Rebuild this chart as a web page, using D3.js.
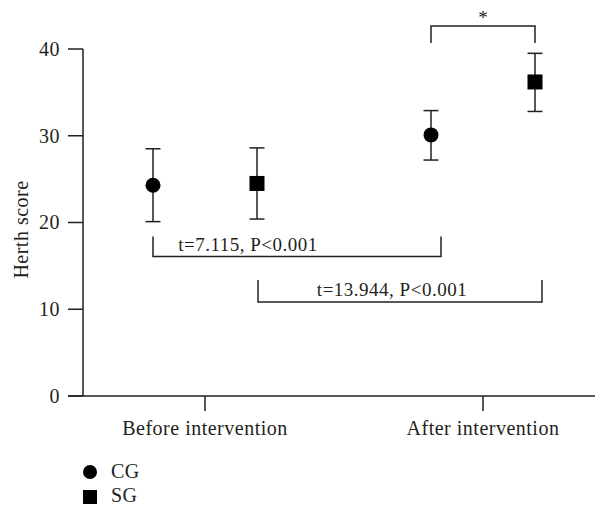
<!DOCTYPE html>
<html>
<head>
<meta charset="utf-8">
<script src="https://cdn.jsdelivr.net/npm/d3@7"></script>
<style>
  html, body { margin: 0; padding: 0; background: #fff; }
  svg { display: block; }
  text { font-family: "Liberation Serif", "Times New Roman", serif; fill: #231f20; }
</style>
</head>
<body>
<svg id="chart" width="595" height="506"></svg>
<script>
// ---- data ----
const categories = ["Before intervention", "After intervention"];
const seriesNames = ["CG", "SG"];
const cgMean = [24.3, 30.1];
const cgLow  = [20.1, 27.2];
const cgHigh = [28.5, 32.9];
const sgMean = [24.5, 36.2];
const sgLow  = [20.4, 32.8];
const sgHigh = [28.6, 39.5];
const yTicks = [0, 10, 20, 30, 40];
const yLabel = "Herth score";
const tests = ["t=7.115, P<0.001", "t=13.944, P<0.001"];
const sigMark = "*";

// ---- layout ----
const svg = d3.select("#chart");
const ink = "#231f20";
const axisX = 83, axisBottom = 396, axisTop = 49;

const y = d3.scaleLinear().domain([0, 40]).range([axisBottom, axisTop]);
const x = d3.scalePoint().domain(categories).range([205, 483]);
const off = d3.scalePoint().domain(seriesNames).range([-52, 52]);

const fontSize = 20, ls = 0.5;

// y axis
svg.append("line").attr("x1", axisX).attr("x2", axisX)
  .attr("y1", y(40)).attr("y2", y(0)).attr("stroke", ink).attr("stroke-width", 1.5);
yTicks.forEach(t => {
  svg.append("line").attr("x1", axisX - 15).attr("x2", axisX)
    .attr("y1", y(t)).attr("y2", y(t)).attr("stroke", ink).attr("stroke-width", 1.5);
  svg.append("text").attr("x", axisX - 23).attr("y", y(t)).attr("dy", "0.34em")
    .attr("text-anchor", "end").attr("font-size", fontSize).attr("letter-spacing", ls)
    .text(t);
});
svg.append("text")
  .attr("transform", `translate(28, ${(y(0) + y(40)) / 2 + 7}) rotate(-90)`)
  .attr("text-anchor", "middle").attr("font-size", fontSize).attr("letter-spacing", ls)
  .text(yLabel);

// x axis
svg.append("line").attr("x1", axisX - 15).attr("x2", 595)
  .attr("y1", y(0)).attr("y2", y(0)).attr("stroke", ink).attr("stroke-width", 1.5);
categories.forEach(c => {
  svg.append("line").attr("x1", x(c)).attr("x2", x(c))
    .attr("y1", y(0)).attr("y2", y(0) + 15).attr("stroke", ink).attr("stroke-width", 1.5);
  svg.append("text").attr("x", x(c)).attr("y", 435)
    .attr("text-anchor", "middle").attr("font-size", fontSize).attr("letter-spacing", ls)
    .text(c);
});

// points with error bars
const series = [
  { name: "CG", mean: cgMean, low: cgLow, high: cgHigh, shape: "circle" },
  { name: "SG", mean: sgMean, low: sgLow, high: sgHigh, shape: "square" }
];
const capHalf = 7.5;
series.forEach(s => {
  categories.forEach((c, i) => {
    const cx = x(c) + off(s.name);
    const g = svg.append("g");
    g.append("line").attr("x1", cx).attr("x2", cx)
      .attr("y1", y(s.high[i])).attr("y2", y(s.low[i])).attr("stroke", ink).attr("stroke-width", 1.5);
    [s.high[i], s.low[i]].forEach(v => {
      g.append("line").attr("x1", cx - capHalf).attr("x2", cx + capHalf)
        .attr("y1", y(v)).attr("y2", y(v)).attr("stroke", ink).attr("stroke-width", 1.5);
    });
    if (s.shape === "circle") {
      g.append("circle").attr("cx", cx).attr("cy", y(s.mean[i])).attr("r", 7.5).attr("fill", "#000");
    } else {
      g.append("rect").attr("x", cx - 7.5).attr("y", y(s.mean[i]) - 7.5)
        .attr("width", 15).attr("height", 15).attr("fill", "#000");
    }
  });
});

// comparison brackets (open upward, text inside)
function bracketUp(x1, x2, yTop, yBot, label, tx) {
  svg.append("path")
    .attr("d", `M${x1},${yTop}V${yBot}H${x2}V${yTop}`)
    .attr("fill", "none").attr("stroke", ink).attr("stroke-width", 1.5);
  svg.append("text").attr("x", tx).attr("y", yBot - 6)
    .attr("text-anchor", "middle").attr("font-size", 19).attr("letter-spacing", ls)
    .text(label);
}
const cgX0 = x(categories[0]) + off("CG");
const sgX0 = x(categories[0]) + off("SG");
const cgX1 = x(categories[1]) + off("CG");
const sgX1 = x(categories[1]) + off("SG");
bracketUp(cgX0, cgX1 + 10, 236.5, 256.5, tests[0], 248);
bracketUp(sgX0 + 1, sgX1 + 7, 280, 302, tests[1], 392);

// significance bracket between groups after intervention
svg.append("path")
  .attr("d", `M${cgX1},${43}V${26}H${sgX1}V${43}`)
  .attr("fill", "none").attr("stroke", ink).attr("stroke-width", 1.5);
svg.append("text").attr("x", (cgX1 + sgX1) / 2).attr("y", 24)
  .attr("text-anchor", "middle").attr("font-size", 19).text(sigMark);

// legend
const leg = svg.append("g");
leg.append("circle").attr("cx", 90).attr("cy", 472).attr("r", 7).attr("fill", "#000");
leg.append("rect").attr("x", 83).attr("y", 490).attr("width", 14).attr("height", 14).attr("fill", "#000");
leg.append("text").attr("x", 111).attr("y", 478).attr("font-size", fontSize).attr("letter-spacing", ls).text(seriesNames[0]);
leg.append("text").attr("x", 111).attr("y", 502).attr("font-size", fontSize).attr("letter-spacing", ls).text(seriesNames[1]);
</script>
</body>
</html>
